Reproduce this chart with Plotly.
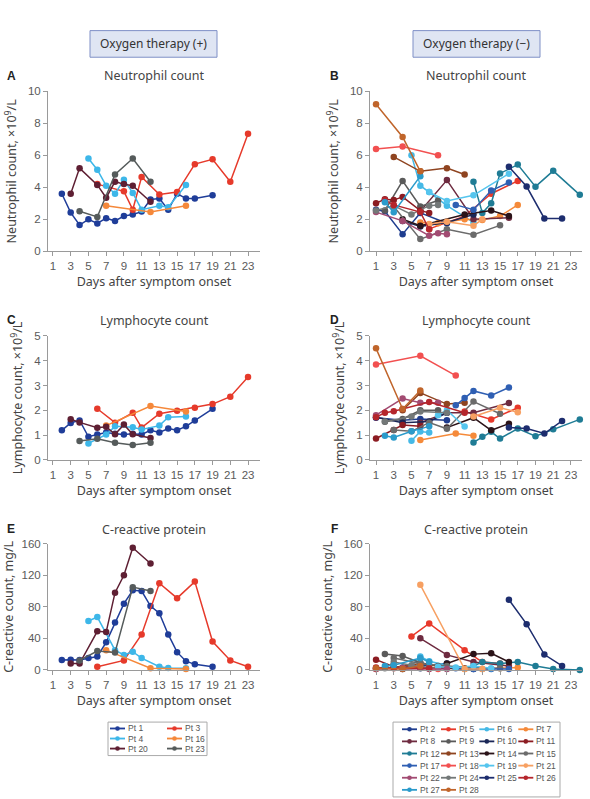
import plotly.graph_objects as go

W, H = 590, 799

# ---------------- data: oxygen therapy (+) ----------------
plus_patients = ["Pt 1", "Pt 3", "Pt 4", "Pt 16", "Pt 20", "Pt 23"]
plus_colors = ["#1f3d99", "#e63a2b", "#3db7e9", "#f5883a", "#5e1f33", "#555b5b"]

neut_plus_days = [
    [2, 3, 4, 5, 6, 7, 8, 9, 10, 11, 12, 13, 14, 15, 16, 17, 19],
    [6, 9, 10, 11, 13, 15, 17, 19, 21, 23],
    [5, 6, 7, 8, 9, 10, 11, 13, 14, 16],
    [7, 12, 16],
    [3, 4, 6, 7, 8, 9, 10, 12],
    [4, 6, 8, 10, 12],
]
neut_plus_vals = [
    [3.6, 2.42, 1.64, 2.0, 1.74, 2.07, 1.9, 2.2, 2.3, 2.48, 3.24, 3.3, 2.6, 3.6, 3.3, 3.3, 3.5],
    [4.2, 3.75, 2.6, 4.65, 3.55, 3.7, 5.45, 5.75, 4.35, 7.35],
    [5.8, 5.1, 4.1, 3.6, 4.47, 3.65, 2.6, 2.85, 2.75, 4.15],
    [2.85, 2.45, 2.85],
    [3.6, 5.2, 4.15, 3.35, 4.35, 4.2, 4.1, 3.1],
    [2.5, 2.15, 4.8, 5.8, 4.35],
]
lymph_plus_days = [
    [2, 3, 4, 5, 6, 7, 8, 9, 10, 11, 12, 13, 14, 15, 16, 17, 19],
    [6, 8, 10, 11, 13, 15, 17, 19, 21, 23],
    [5, 7, 8, 10, 11, 13, 14, 16],
    [7, 12, 16],
    [3, 4, 6, 7, 8, 9, 10, 12],
    [4, 6, 8, 10, 12],
]
lymph_plus_vals = [
    [1.19, 1.49, 1.59, 0.93, 1.02, 1.1, 1.05, 1.02, 1.05, 1.02, 1.19, 1.1, 1.26, 1.19, 1.35, 1.59, 2.06],
    [2.06, 1.5, 1.9, 1.3, 1.86, 1.98, 2.1, 2.25, 2.55, 3.34],
    [0.66, 1.02, 1.35, 1.31, 1.22, 1.38, 1.72, 1.75],
    [1.38, 2.17, 1.95],
    [1.64, 1.51, 1.29, 1.33, 1.03, 1.42, 1.03, 0.88],
    [0.76, 0.85, 0.69, 0.6, 0.69],
]
crp_plus_days = [
    [2, 3, 4, 5, 6, 7, 8, 9, 10, 11, 12, 13, 14, 15, 16, 17, 19],
    [6, 9, 11, 13, 15, 17, 19, 21, 23],
    [5, 6, 8, 9, 10, 11, 13, 14, 16],
    [7, 12, 16],
    [3, 4, 6, 7, 8, 9, 10, 12],
    [4, 6, 8, 10, 12],
]
crp_plus_vals = [
    [12.5, 13, 12.5, 15, 17, 35, 60, 84, 101, 100, 81, 72, 45, 22.5, 11, 7, 4],
    [4, 12, 45, 110, 91, 112, 36, 12, 4],
    [62, 67, 25, 19, 23, 15, 4, 2.5, 2],
    [25, 2, 1],
    [8, 8, 49, 48, 98, 120, 155, 135],
    [12, 24, 22, 105, 100],
]

# ---------------- data: oxygen therapy (-) ----------------
minus_patients = ["Pt 2", "Pt 5", "Pt 6", "Pt 7", "Pt 8", "Pt 9", "Pt 10", "Pt 11",
                  "Pt 12", "Pt 13", "Pt 14", "Pt 15", "Pt 17", "Pt 18", "Pt 19", "Pt 21",
                  "Pt 22", "Pt 24", "Pt 25", "Pt 26", "Pt 27", "Pt 28"]
minus_colors = ["#1f3d8f", "#e8392b", "#45b9e6", "#f58a3a", "#6e2b40", "#5a5a5a", "#1b2757", "#8c1c22",
                "#1f7c95", "#8f4420", "#2b1318", "#6b6b6b", "#2f5fb3", "#f25050", "#55c5ee", "#f7a062",
                "#a24b72", "#737878", "#1d2d6e", "#b5262c", "#2b9bcb", "#c0652b"]

neut_minus_days = [
    [1, 2, 4, 6, 9], [7, 11, 14, 17], [5, 6, 7, 9, 12], [6, 8, 11, 13, 15, 17],
    [6, 9, 12, 16], [2, 4, 6, 8], [4, 6, 9, 12], [1, 2, 3, 4, 6, 7],
    [12, 13, 14, 15, 17, 19, 21, 24], [3, 6, 9, 11], [4, 6, 11, 14, 16], [3, 6, 9, 12, 15],
    [10, 12, 14, 16], [1, 4, 8], [7, 9, 12, 16], [7, 9, 12, 13],
    [1, 4, 7, 8, 9], [1, 3, 5, 7, 8], [16, 18, 20, 22], [2, 3, 6, 7], [2, 3, 6], [1, 4, 6],
]
neut_minus_vals = [
    [2.6, 2.5, 1.07, 2.4, 1.75], [1.4, 2.2, 3.6, 4.4], [6.0, 4.1, 3.7, 2.85, 1.8], [1.8, 1.75, 2.0, 1.95, 2.2, 2.9],
    [2.5, 4.45, 2.0, 2.1], [2.55, 4.4, 2.8, 3.18], [1.9, 1.55, 1.8, 2.3], [3.0, 3.26, 3.2, 3.4, 2.55, 2.4],
    [4.35, 2.4, 3.0, 4.87, 5.42, 4.04, 5.03, 3.53], [5.9, 5.0, 5.2, 4.8], [2.0, 1.6, 2.3, 2.55, 2.2], [2.8, 0.76, 1.37, 1.03, 1.62],
    [2.9, 2.6, 3.8, 4.3], [6.4, 6.55, 6.0], [3.7, 3.15, 3.5, 4.85], [1.7, 1.85, 1.6, 2.0],
    [2.45, 1.9, 0.97, 1.13, 1.07], [2.55, 2.85, 2.3, 2.85, 2.9], [5.28, 4.05, 2.05, 2.05], [3.2, 2.9, 2.45, 1.37], [3.06, 2.44, 4.7], [9.2, 7.15, 5.0],
]
lymph_minus_days = [
    [1, 4, 6, 9], [11, 14, 17], [5, 6, 7], [6, 10, 12],
    [6, 9, 12, 16], [2, 4, 6, 8], [1, 4, 7, 9], [1, 3, 4, 6],
    [12, 13, 14, 15, 17, 19, 21, 24], [4, 6, 9, 11], [9, 12, 14, 16], [3, 5, 7, 9, 12, 15],
    [10, 11, 12, 14, 16], [1, 6, 10], [8, 9, 11], [12, 15, 17],
    [1, 4, 6, 8], [2, 5, 6, 9], [16, 18, 20, 22], [1, 2, 3, 4, 7, 11], [2, 3, 5, 7], [1, 4, 6],
]
lymph_minus_vals = [
    [1.7, 1.6, 1.65, 1.6], [1.95, 1.63, 2.1], [0.77, 1.14, 1.1], [0.8, 1.06, 0.97],
    [1.5, 1.9, 1.9, 2.29], [1.54, 1.65, 2.0, 2.0], [1.72, 1.5, 1.55, 1.9], [0.86, 1.2, 1.4, 1.35],
    [0.7, 0.93, 1.13, 0.86, 1.26, 0.95, 1.23, 1.63], [2.0, 2.7, 2.25, 2.3], [1.3, 1.7, 1.19, 1.46], [1.2, 1.15, 1.5, 1.25, 2.35, 1.86],
    [2.2, 2.5, 2.78, 2.6, 2.92], [3.85, 4.2, 3.4], [1.8, 2.0, 1.34], [1.75, 2.1, 1.92],
    [1.8, 2.47, 2.3, 2.3], [1.55, 1.75, 1.95, 1.9], [1.3, 1.26, 1.06, 1.57], [1.72, 1.9, 1.96, 2.05, 2.33, 1.9], [0.97, 0.9, 1.15, 1.35], [4.5, 2.05, 2.8],
]
crp_minus_days = [
    [1, 4, 6, 9], [5, 7, 11, 13, 15], [5, 6, 7, 9], [6, 8, 11, 13, 15, 17],
    [6, 9, 12, 16], [2, 4, 6, 8], [4, 6, 9, 12], [1, 3, 6],
    [12, 13, 15, 17, 19, 21, 24], [3, 6, 9, 11], [9, 12, 14, 16], [3, 6, 9, 12, 15],
    [10, 12, 14, 16], [1, 4, 8], [8, 10, 12, 14], [6, 11, 13],
    [1, 4, 7, 9], [2, 3, 5, 7], [16, 18, 20, 22], [1, 3, 7], [2, 3, 6, 7], [1, 4, 6],
]
crp_minus_vals = [
    [2, 3, 5, 8], [42.5, 59, 25, 10, 8], [5, 17, 11, 6], [3, 2, 1, 1, 2, 3],
    [40, 19, 10, 5], [20, 17.5, 9, 5], [1, 2, 2, 1], [13, 4, 3],
    [5, 10, 8, 10, 5, 1, 0], [3, 8, 3, 2], [8, 20, 21, 10], [15, 8, 5, 3, 2],
    [2, 1, 1, 1], [1, 2, 1], [4, 3, 5, 2], [108, 1, 1],
    [1, 2, 1, 1], [2, 10, 6, 3], [89, 58, 19.5, 5], [3, 2, 2], [5, 6, 15, 10], [2, 1, 5],
]

day_ticks = list(range(1, 24, 2))

# ---------------- helpers ----------------
def fx(px):
    return px / W


def fy(py):
    return 1 - py / H


TITLE_FONT = "Noto Sans, Open Sans, sans-serif"
TICK_FONT = "Liberation Sans, Arial, sans-serif"

fig = go.Figure()

panels = [
    ("", neut_plus_days, neut_plus_vals, plus_patients, plus_colors),
    ("2", neut_minus_days, neut_minus_vals, minus_patients, minus_colors),
    ("3", lymph_plus_days, lymph_plus_vals, plus_patients, plus_colors),
    ("4", lymph_minus_days, lymph_minus_vals, minus_patients, minus_colors),
    ("5", crp_plus_days, crp_plus_vals, plus_patients, plus_colors),
    ("6", crp_minus_days, crp_minus_vals, minus_patients, minus_colors),
]

for suf, days, vals, pts, cols in panels:
    for d, v, name, c in zip(days, vals, pts, cols):
        fig.add_trace(go.Scatter(
            x=d, y=v, name=name, mode="lines+markers",
            line=dict(color=c, width=1.5),
            marker=dict(color=c, size=6.5),
            xaxis="x" + suf, yaxis="y" + suf,
            showlegend=False, cliponaxis=False,
            hovertemplate=name + ": day %{x}, %{y}<extra></extra>",
        ))

left_dom = [fx(48), fx(260)]
right_dom = [fx(370), fx(582)]
rows = [[fy(249), fy(86.7)], [fy(460.7), fy(335)], [fy(674), fy(546)]]
left_range = [0.44, 24.35]
right_range = [0.32, 24.25]

axis_common = dict(
    showline=True, linecolor="#9a9a9a", linewidth=1,
    ticks="outside", ticklen=4, tickcolor="#9a9a9a",
    tickfont=dict(family=TICK_FONT, size=11.5, color="#5a5a5a"),
    showgrid=False, zeroline=False, fixedrange=True,
)

ytitles = ["Neutrophil count, ×10<sup>9</sup>/L", "Lymphocyte count, ×10<sup>9</sup>/L", "C-reactive count, mg/L"]
yranges = [[0, 10], [0, 5], [0, 160]]
ytickvals = [[0, 2, 4, 6, 8, 10], [0, 1, 2, 3, 4, 5], [0, 40, 80, 120, 160]]

layout = dict(
    width=W, height=H, margin=dict(l=0, r=0, t=0, b=0),
    paper_bgcolor="white", plot_bgcolor="white",
    showlegend=False,
)

idx = 0
for r in range(3):
    for c in range(2):
        idx += 1
        suf = "" if idx == 1 else str(idx)
        xd = left_dom if c == 0 else right_dom
        xr = left_range if c == 0 else right_range
        layout["xaxis" + suf] = dict(
            axis_common, domain=xd, range=xr, tickmode="array", tickvals=day_ticks,
            anchor="y" + suf,
            title=dict(text="Days after symptom onset", standoff=6,
                       font=dict(family=TITLE_FONT, size=12.5, color="#444444")),
        )
        layout["yaxis" + suf] = dict(
            axis_common, domain=rows[r], range=yranges[r], tickmode="array", tickvals=ytickvals[r],
            anchor="x" + suf,
            title=dict(text=ytitles[r], standoff=8,
                       font=dict(family=TITLE_FONT, size=12.5, color="#444444")),
        )

fig.update_layout(**layout)

annotations = []
shapes = []

# header boxes
for (x0, x1, txt) in [(90, 217, "Oxygen therapy (+)"), (413, 540, "Oxygen therapy (−)")]:
    shapes.append(dict(type="rect", xref="paper", yref="paper",
                       x0=fx(x0), x1=fx(x1), y0=fy(52), y1=fy(25),
                       fillcolor="#dfe5f3", line=dict(color="#7e8fc6", width=1)))
    annotations.append(dict(text=txt, xref="paper", yref="paper", x=fx((x0 + x1) / 2), y=fy(38.5),
                            showarrow=False, xanchor="center", yanchor="middle",
                            font=dict(family=TITLE_FONT, size=12, color="#333333")))

# panel titles and letters
titles = ["Neutrophil count", "Lymphocyte count", "C-reactive protein"]
title_y = [71, 319, 531]
letters = [["A", "B"], ["C", "D"], ["E", "F"]]
for r in range(3):
    for c in range(2):
        cx = 154 if c == 0 else 476
        lx = 11 if c == 0 else 334
        annotations.append(dict(text=titles[r], xref="paper", yref="paper", x=fx(cx), y=fy(title_y[r]),
                                showarrow=False, xanchor="center", yanchor="middle",
                                font=dict(family=TITLE_FONT, size=12.5, color="#444444")))
        annotations.append(dict(text="<b>" + letters[r][c] + "</b>", xref="paper", yref="paper",
                                x=fx(lx), y=fy(title_y[r]), showarrow=False,
                                xanchor="center", yanchor="middle",
                                font=dict(family=TICK_FONT, size=12, color="#222222")))

# manual legends
def legend_entry(name, color, lx, ly, seg=15):
    shapes.append(dict(type="line", xref="paper", yref="paper",
                       x0=fx(lx), x1=fx(lx + seg), y0=fy(ly), y1=fy(ly),
                       line=dict(color=color, width=1.8)))
    cx = lx + seg / 2
    rr = 2.3
    shapes.append(dict(type="circle", xref="paper", yref="paper",
                       x0=fx(cx - rr), x1=fx(cx + rr), y0=fy(ly + rr), y1=fy(ly - rr),
                       fillcolor=color, line=dict(color=color, width=0)))
    annotations.append(dict(text=name, xref="paper", yref="paper", x=fx(lx + seg + 1), y=fy(ly),
                            showarrow=False, xanchor="left", yanchor="middle",
                            font=dict(family=TICK_FONT, size=8.5, color="#555555")))

shapes.append(dict(type="rect", xref="paper", yref="paper", x0=fx(108), x1=fx(207),
                   y0=fy(761), y1=fy(727), line=dict(color="#aaaaaa", width=1), fillcolor="rgba(0,0,0,0)"))
for i, (name, col) in enumerate(zip(plus_patients, plus_colors)):
    rrow, ccol = divmod(i, 2)
    legend_entry(name, col, 110 + ccol * 57, 733.5 + rrow * 10.2)

shapes.append(dict(type="rect", xref="paper", yref="paper", x0=fx(393), x1=fx(560),
                   y0=fy(803), y1=fy(727), line=dict(color="#aaaaaa", width=1), fillcolor="rgba(0,0,0,0)"))
col_x = [402, 441, 479.3, 518.3]
for i, (name, col) in enumerate(zip(minus_patients, minus_colors)):
    rrow, ccol = divmod(i, 4)
    legend_entry(name, col, col_x[ccol], 734.3 + rrow * 12.3)

fig.update_layout(annotations=annotations, shapes=shapes)

fig.write_html("out.html", config={"displayModeBar": False})
